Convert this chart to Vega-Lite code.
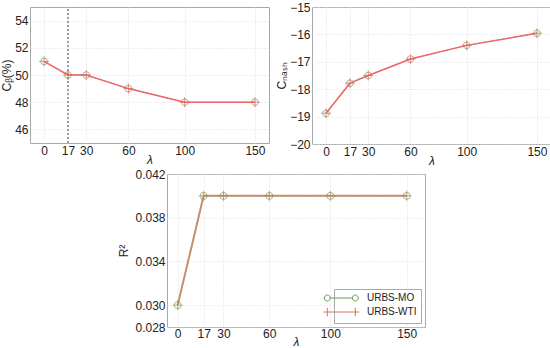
{
  "$schema": "https://vega.github.io/schema/vega-lite/v6.json",
  "padding": {"left": 0, "top": 0, "right": 2, "bottom": 0},
  "background": "white",
  "config": {
    "view": {"stroke": "#a8a8a8", "strokeWidth": 1},
    "axis": {"labelFont": "Liberation Sans", "labelFontSize": 12, "labelColor": "#222", "titleFont": "Liberation Sans", "titleFontSize": 12, "titleFontWeight": "normal", "titleColor": "#222", "ticks": false, "domain": false, "gridColor": "#dcdcdc", "gridDash": [1, 2], "labelPadding": 2, "labelOverlap": false, "labelBound": false, "labelFlush": false, "tickCount": 20}
  },
  "resolve": {"legend": {"color": "independent", "shape": "independent"}, "scale": {"color": "independent", "shape": "independent"}},
  "datasets": {
    "cb": [
      {"series": "URBS-MO", "lam": 0, "value": 51}, {"series": "URBS-MO", "lam": 17, "value": 50}, {"series": "URBS-MO", "lam": 30, "value": 50}, {"series": "URBS-MO", "lam": 60, "value": 49}, {"series": "URBS-MO", "lam": 100, "value": 48}, {"series": "URBS-MO", "lam": 150, "value": 48},
      {"series": "URBS-WTI", "lam": 0, "value": 51}, {"series": "URBS-WTI", "lam": 17, "value": 50}, {"series": "URBS-WTI", "lam": 30, "value": 50}, {"series": "URBS-WTI", "lam": 60, "value": 49}, {"series": "URBS-WTI", "lam": 100, "value": 48}, {"series": "URBS-WTI", "lam": 150, "value": 48}
    ],
    "cnash": [
      {"series": "URBS-MO", "lam": 0, "value": -18.88}, {"series": "URBS-MO", "lam": 17, "value": -17.78}, {"series": "URBS-MO", "lam": 30, "value": -17.5}, {"series": "URBS-MO", "lam": 60, "value": -16.9}, {"series": "URBS-MO", "lam": 100, "value": -16.4}, {"series": "URBS-MO", "lam": 150, "value": -15.96},
      {"series": "URBS-WTI", "lam": 0, "value": -18.88}, {"series": "URBS-WTI", "lam": 17, "value": -17.78}, {"series": "URBS-WTI", "lam": 30, "value": -17.5}, {"series": "URBS-WTI", "lam": 60, "value": -16.9}, {"series": "URBS-WTI", "lam": 100, "value": -16.4}, {"series": "URBS-WTI", "lam": 150, "value": -15.96}
    ],
    "r2": [
      {"series": "URBS-MO", "lam": 0, "value": 0.030}, {"series": "URBS-MO", "lam": 17, "value": 0.040}, {"series": "URBS-MO", "lam": 30, "value": 0.040}, {"series": "URBS-MO", "lam": 60, "value": 0.040}, {"series": "URBS-MO", "lam": 100, "value": 0.040}, {"series": "URBS-MO", "lam": 150, "value": 0.040},
      {"series": "URBS-WTI", "lam": 0, "value": 0.030}, {"series": "URBS-WTI", "lam": 17, "value": 0.040}, {"series": "URBS-WTI", "lam": 30, "value": 0.040}, {"series": "URBS-WTI", "lam": 60, "value": 0.040}, {"series": "URBS-WTI", "lam": 100, "value": 0.040}, {"series": "URBS-WTI", "lam": 150, "value": 0.040}
    ]
  },
  "spacing": 0,
  "vconcat": [
    {
      "spacing": 5,
      "hconcat": [
        {
          "width": 239, "height": 136,
          "data": {"name": "cb"},
          "layer": [
            {"transform": [{"filter": "datum.series == 'URBS-MO'"}], "mark": {"type": "line", "color": "#5a9e4a", "strokeDash": [1.5, 1.5], "strokeWidth": 1},
             "encoding": {"x": {"field": "lam", "type": "quantitative", "scale": {"domain": [-10, 160], "nice": false, "zero": false}, "axis": {"values": [0, 17, 30, 60, 100, 150], "format": "d", "title": "λ", "titleFontStyle": "italic", "titlePadding": -2}},
                          "y": {"field": "value", "type": "quantitative", "scale": {"domain": [45, 55], "nice": false, "zero": false}, "axis": {"values": [46, 48, 50, 52, 54], "format": "d", "title": "Cᵦ(%)", "titlePadding": 1}}}},
            {"data": {"values": [{"lam": 17}]}, "mark": {"type": "rule", "color": "#444", "strokeDash": [2, 2], "strokeWidth": 1},
             "encoding": {"x": {"field": "lam", "type": "quantitative"}, "y": {"datum": 45}, "y2": {"datum": 55}}},
            {"transform": [{"filter": "datum.series == 'URBS-WTI'"}], "mark": {"type": "line", "color": "#f0646a", "strokeWidth": 1.5},
             "encoding": {"x": {"field": "lam", "type": "quantitative"}, "y": {"field": "value", "type": "quantitative"}}},
            {"transform": [{"filter": "datum.series == 'URBS-MO'"}], "mark": {"type": "point", "shape": "circle", "filled": false, "color": "#7aa060", "size": 45, "strokeWidth": 1},
             "encoding": {"x": {"field": "lam", "type": "quantitative"}, "y": {"field": "value", "type": "quantitative"}}},
            {"transform": [{"filter": "datum.series == 'URBS-WTI'"}], "mark": {"type": "point", "shape": "M-1,0L1,0M0,-1L0,1", "filled": false, "color": "#e8605a", "size": 100, "strokeWidth": 1},
             "encoding": {"x": {"field": "lam", "type": "quantitative"}, "y": {"field": "value", "type": "quantitative"}}}
          ]
        },
        {
          "width": 239, "height": 137,
          "data": {"name": "cnash"},
          "layer": [
            {"transform": [{"filter": "datum.series == 'URBS-MO'"}], "mark": {"type": "line", "color": "#5a9e4a", "strokeDash": [1.5, 1.5], "strokeWidth": 1},
             "encoding": {"x": {"field": "lam", "type": "quantitative", "scale": {"domain": [-10, 160], "nice": false, "zero": false}, "axis": {"values": [0, 17, 30, 60, 100, 150], "format": "d", "title": "λ", "titleFontStyle": "italic", "titlePadding": -2}},
                          "y": {"field": "value", "type": "quantitative", "scale": {"domain": [-20, -15], "nice": false, "zero": false}, "axis": {"values": [-20, -19, -18, -17, -16, -15], "format": "d", "title": "Cₙₐₛₕ", "titlePadding": 1}}}},
            {"transform": [{"filter": "datum.series == 'URBS-WTI'"}], "mark": {"type": "line", "color": "#f0646a", "strokeWidth": 1.5},
             "encoding": {"x": {"field": "lam", "type": "quantitative"}, "y": {"field": "value", "type": "quantitative"}}},
            {"transform": [{"filter": "datum.series == 'URBS-MO'"}], "mark": {"type": "point", "shape": "circle", "filled": false, "color": "#7aa060", "size": 45, "strokeWidth": 1},
             "encoding": {"x": {"field": "lam", "type": "quantitative"}, "y": {"field": "value", "type": "quantitative"}}},
            {"transform": [{"filter": "datum.series == 'URBS-WTI'"}], "mark": {"type": "point", "shape": "M-1,0L1,0M0,-1L0,1", "filled": false, "color": "#e8605a", "size": 100, "strokeWidth": 1},
             "encoding": {"x": {"field": "lam", "type": "quantitative"}, "y": {"field": "value", "type": "quantitative"}}}
          ]
        }
      ]
    },
    {
      "spacing": 20,
      "resolve": {"legend": {"color": "independent", "shape": "independent"}, "scale": {"color": "independent", "shape": "independent"}},
      "hconcat": [
        {"width": 67, "height": 10, "view": {"stroke": null}, "data": {"values": [{"a": 1}]}, "mark": {"type": "point", "opacity": 0}, "encoding": {}},
        {
          "width": 258, "height": 153,
          "data": {"name": "r2"},
          "layer": [
            {"transform": [{"filter": "datum.series == 'URBS-MO'"}], "mark": {"type": "line", "color": "#7aa060", "strokeDash": [1.5, 1.5], "strokeWidth": 1},
             "encoding": {"x": {"field": "lam", "type": "quantitative", "scale": {"domain": [-7, 162], "nice": false, "zero": false}, "axis": {"values": [0, 17, 30, 60, 100, 150], "format": "d", "labelPadding": 1, "title": "λ", "titleFontStyle": "italic", "titlePadding": -3}},
                          "y": {"field": "value", "type": "quantitative", "scale": {"domain": [0.028, 0.042], "nice": false, "zero": false}, "axis": {"values": [0.028, 0.030, 0.034, 0.038, 0.042], "format": ".3f", "title": "R²", "titlePadding": 4}}}},
            {"transform": [{"filter": "datum.series == 'URBS-WTI'"}], "mark": {"type": "line", "color": "#c29070", "strokeWidth": 2},
             "encoding": {"x": {"field": "lam", "type": "quantitative"}, "y": {"field": "value", "type": "quantitative"}}},
            {"transform": [{"filter": "datum.series == 'URBS-MO'"}], "mark": {"type": "point", "shape": "circle", "filled": false, "color": "#8a9a60", "size": 50, "strokeWidth": 1},
             "encoding": {"x": {"field": "lam", "type": "quantitative"}, "y": {"field": "value", "type": "quantitative"}}},
            {"transform": [{"filter": "datum.series == 'URBS-WTI'"}], "mark": {"type": "point", "shape": "M-1,0L1,0M0,-1L0,1", "filled": false, "color": "#b08060", "size": 100, "strokeWidth": 1},
             "encoding": {"x": {"field": "lam", "type": "quantitative"}, "y": {"field": "value", "type": "quantitative"}}},
            {"mark": {"type": "point", "opacity": 0},
             "encoding": {"x": {"field": "lam", "type": "quantitative"}, "y": {"field": "value", "type": "quantitative"},
                          "color": {"field": "series", "type": "nominal", "scale": {"domain": ["URBS-MO", "URBS-WTI"], "range": ["#6a9a50", "#d9735a"]},
                                    "legend": {"title": null, "orient": "bottom-right", "offset": 4, "padding": 4, "strokeColor": "#aaa", "fillColor": "white", "symbolSize": 72, "symbolStrokeWidth": 1, "symbolOpacity": 1, "labelOffset": 19, "labelFont": "Liberation Sans", "labelFontSize": 10, "labelColor": "#222", "rowPadding": 2}},
                          "shape": {"field": "series", "type": "nominal", "scale": {"domain": ["URBS-MO", "URBS-WTI"], "range": ["M-4.4,0a0.7,0.7 0 1,0 1.4,0a0.7,0.7 0 1,0 -1.4,0M-3,0L2.2,0M2.2,0a0.7,0.7 0 1,0 1.4,0a0.7,0.7 0 1,0 -1.4,0", "M-4.6,0L3.8,0M-3.7,-1L-3.7,1M2.9,-1L2.9,1"]}}}}
          ]
        }
      ]
    }
  ]
}
